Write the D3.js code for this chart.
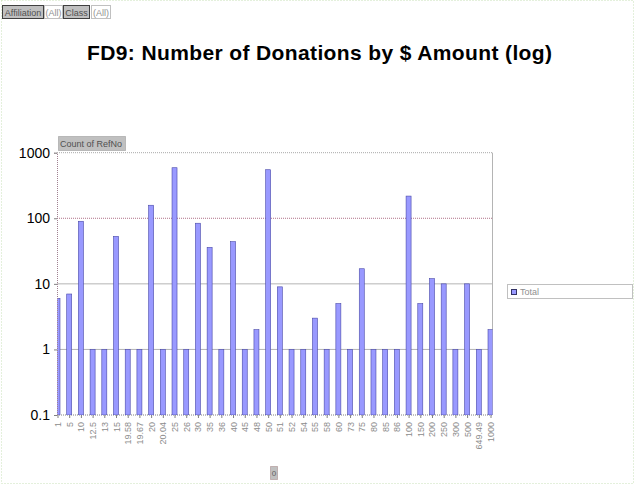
<!DOCTYPE html>
<html>
<head>
<meta charset="utf-8">
<script src="https://cdn.jsdelivr.net/npm/d3@7"></script>
<style>
  body { margin: 0; background: #fff; }
  text { font-family: "Liberation Sans", Arial, sans-serif; }
</style>
</head>
<body>
<svg id="chart" width="635" height="485"></svg>
<script>
// donation amounts (categories) and number of donations
const amounts = ["1","5","10","12.5","13","15","19.58","19.67","20","20.04",
  "25","26","30","35","36","40","45","48","50","51",
  "52","54","55","58","60","73","75","80","85","86",
  "100","150","200","250","300","500","649.49","1000"];
const counts = [6,7,90,1,1,53,1,1,158,1,
  590,1,84,36,1,44,1,2,550,9,
  1,1,3,1,5,1,17,1,1,1,
  218,5,12,10,1,10,1,2];
const yTicks = [0.1, 1, 10, 100, 1000];
const yTickLabels = ["0.1", "1", "10", "100", "1000"];

const svg = d3.select('#chart');
const plotLeft = 57, plotRight = 492.5, plotTop = 152.7, plotBottom = 415;

// dotted outline of the whole chart area
svg.append('rect')
  .attr('x', 1.5).attr('y', 0.5).attr('width', 632).attr('height', 483)
  .attr('fill', 'none').attr('stroke', '#c8e0b8').attr('stroke-dasharray', '1,2');

const x = d3.scalePoint().domain(amounts).range([plotLeft + 0.5, plotRight - 2]);
const y = d3.scaleLog().domain([0.1, 1000]).range([plotBottom, plotTop]);

// gridlines
yTicks.forEach(t => {
  let color = '#b4b4b4', dash = null;
  if (t === 100) { color = '#b07088'; dash = '1,1'; }
  if (t === 1000) { color = '#a8a8a8'; dash = '1,1'; }
  if (t === 0.1) { color = '#808080'; dash = '1,1'; }
  svg.append('line')
    .attr('x1', plotLeft).attr('x2', plotRight)
    .attr('y1', y(t)).attr('y2', y(t))
    .attr('stroke', color).attr('stroke-width', 1)
    .attr('stroke-dasharray', dash);
});

// right border of plot
svg.append('line')
  .attr('x1', plotRight).attr('x2', plotRight).attr('y1', plotTop).attr('y2', plotBottom)
  .attr('stroke', '#b4b4b4');

svg.append('clipPath').attr('id', 'plotclip')
  .append('rect').attr('x', plotLeft).attr('y', plotTop - 1)
  .attr('width', plotRight - plotLeft).attr('height', plotBottom - plotTop + 1);

// bars
svg.append('g').attr('clip-path', 'url(#plotclip)')
  .selectAll('rect')
  .data(counts)
  .enter()
  .append('rect')
  .attr('x', (d, i) => x(amounts[i]) - 2.5)
  .attr('width', 5)
  .attr('y', d => y(d))
  .attr('height', d => y(0.1) - y(d))
  .attr('fill', '#9999ff')
  .attr('stroke', '#4848a8')
  .attr('stroke-width', 0.6);

// y axis
const yAxis = d3.axisLeft(y)
  .tickValues(yTicks)
  .tickFormat((d, i) => yTickLabels[i])
  .tickSize(3).tickPadding(4);
const gy = svg.append('g').attr('transform', `translate(${plotLeft},0)`).call(yAxis);
gy.select('.domain').attr('stroke', '#a08090').attr('stroke-dasharray', '1,1');
gy.selectAll('.tick line').attr('stroke', '#808080');
gy.selectAll('.tick text')
  .attr('font-family', '"Liberation Sans", Arial, sans-serif')
  .attr('font-size', 14).attr('fill', '#000');

// x axis
const xAxis = d3.axisBottom(x).tickSize(3).tickPadding(4);
const gx = svg.append('g').attr('transform', `translate(0,${plotBottom})`).call(xAxis);
gx.select('.domain').remove();
gx.selectAll('.tick line').attr('stroke', '#808080');
gx.selectAll('.tick text')
  .attr('font-family', '"Liberation Sans", Arial, sans-serif')
  .attr('font-size', 9).attr('fill', '#8c8c8c')
  .attr('text-anchor', 'end')
  .attr('dy', null)
  .attr('transform', 'rotate(-90)')
  .attr('x', -7).attr('y', 3);

// title
svg.append('text')
  .attr('x', 87).attr('y', 60)
  .attr('font-size', 21).attr('font-weight', 'bold').attr('fill', '#000')
  .attr('textLength', 465).attr('lengthAdjust', 'spacing')
  .text('FD9: Number of Donations by $ Amount (log)');

// page field buttons
const buttons = [
  {label: 'Affiliation', x: 2, w: 41, gray: true},
  {label: '(All)', x: 44, w: 18, gray: false},
  {label: 'Class', x: 63, w: 26, gray: true},
  {label: '(All)', x: 91, w: 19, gray: false}
];
buttons.forEach(b => {
  svg.append('rect')
    .attr('x', b.x + 0.5).attr('y', 5.5).attr('width', b.w).attr('height', 13)
    .attr('fill', b.gray ? '#c0c0c0' : '#fff')
    .attr('stroke', b.gray ? '#404040' : '#808080')
    .attr('stroke-dasharray', b.gray ? null : '1,1');
  svg.append('text')
    .attr('x', b.x + b.w / 2 + 0.5).attr('y', 15.5)
    .attr('text-anchor', 'middle').attr('font-size', 9)
    .attr('fill', b.gray ? '#505050' : '#909090')
    .text(b.label);
});

// data field button
svg.append('rect')
  .attr('x', 58.5).attr('y', 136.5).attr('width', 67).attr('height', 14)
  .attr('fill', '#c0c0c0').attr('stroke', '#909090').attr('stroke-dasharray', '1,1');
svg.append('text')
  .attr('x', 60).attr('y', 147).attr('font-size', 9).attr('fill', '#505050')
  .text('Count of RefNo');

// legend
svg.append('rect')
  .attr('x', 507.5).attr('y', 284.5).attr('width', 125).attr('height', 14)
  .attr('fill', '#fff').attr('stroke', '#808080').attr('stroke-dasharray', '1,1');
svg.append('rect')
  .attr('x', 511.5).attr('y', 289.5).attr('width', 5).attr('height', 5)
  .attr('fill', '#9999ff').attr('stroke', '#333366');
svg.append('text')
  .attr('x', 520).attr('y', 295).attr('font-size', 9).attr('fill', '#909090')
  .text('Total');

// category field button
svg.append('rect')
  .attr('x', 270.5).attr('y', 466.5).attr('width', 7).attr('height', 13)
  .attr('fill', '#c0c0c0').attr('stroke', '#a08080').attr('stroke-dasharray', '1,1');
svg.append('text')
  .attr('x', 274).attr('y', 476).attr('text-anchor', 'middle')
  .attr('font-size', 8).attr('fill', '#606060').text('0');
</script>
</body>
</html>
